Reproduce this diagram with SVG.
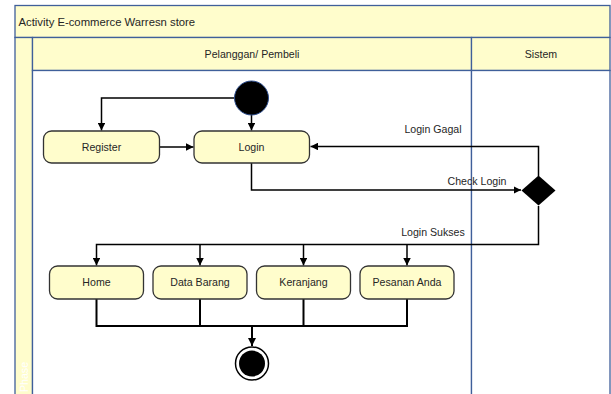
<svg xmlns="http://www.w3.org/2000/svg" width="611" height="394" viewBox="0 0 611 394">
  <style>
    .lane { fill: #fffdcc; stroke: #3f5f9a; stroke-width: 1.3; }
    .body { fill: #ffffff; stroke: #3f5f9a; stroke-width: 1.3; }
    .act { fill: #fffdcc; stroke: #333333; stroke-width: 1.3; }
    .txt { font-family: "Liberation Sans", Arial, sans-serif; font-size: 10.6px; fill: #262626; }
    .mid { text-anchor: middle; }
    .flow { fill: none; stroke: #000000; stroke-width: 1.5; }
    .flow2 { fill: none; stroke: #000000; stroke-width: 2; }
  </style>
  <defs>
    <marker id="arrow" viewBox="0 0 10 10" refX="10" refY="5" markerWidth="5" markerHeight="5" orient="auto" markerUnits="strokeWidth">
      <path d="M0,0 L10,5 L0,10 z" fill="#000000"/>
    </marker>
    <marker id="arrow2" viewBox="0 0 10 10" refX="10" refY="5" markerWidth="4.2" markerHeight="4.2" orient="auto" markerUnits="strokeWidth">
      <path d="M0,0 L10,5 L0,10 z" fill="#000000"/>
    </marker>
  </defs>

  <!-- swimlane frame -->
  <g id="pool">
    <rect class="lane" x="15" y="5.5" width="595" height="32"/>
    <text class="txt" x="18.5" y="25.5" style="font-size:11.3px">Activity E-commerce Warresn store</text>
    <rect class="lane" x="15" y="37.5" width="17.5" height="370"/>
    <text x="0" y="0" transform="translate(28,392) rotate(-90)" style="font-family:'Liberation Sans',Arial,sans-serif;font-size:10.6px;fill:#ffffff">Phase</text>
    <rect class="lane" x="32.5" y="37.5" width="439" height="33"/>
    <rect class="lane" x="471.5" y="37.5" width="138.5" height="33"/>
    <text class="txt mid" x="252" y="57.5">Pelanggan/ Pembeli</text>
    <text class="txt mid" x="541" y="57.5">Sistem</text>
    <rect class="body" x="32.5" y="70.5" width="439" height="340"/>
    <rect class="body" x="471.5" y="70.5" width="138.5" height="340"/>
  </g>

  <!-- connectors -->
  <g id="connectors">
    <path class="flow" d="M235,98 H101.5 V130.5" marker-end="url(#arrow)"/>
    <path class="flow" d="M251.5,114 V130.5" marker-end="url(#arrow)"/>
    <path class="flow" d="M160,147 H193.5" marker-end="url(#arrow)"/>
    <path class="flow" d="M251.5,163 V190 H521" marker-end="url(#arrow)"/>
    <path class="flow" d="M538.5,176 V146.5 H310.5" marker-end="url(#arrow)"/>
    <path class="flow" d="M538.5,206 V244.5 H96.5 V265.5" marker-end="url(#arrow)"/>
    <path class="flow" d="M200,244.5 V265.5" marker-end="url(#arrow)"/>
    <path class="flow" d="M303.5,244.5 V265.5" marker-end="url(#arrow)"/>
    <path class="flow" d="M407,244.5 V265.5" marker-end="url(#arrow)"/>
    <path class="flow2" d="M96.5,299 V326 H407 V299 M200,299 V326 M303.5,299 V326"/>
    <path class="flow2" d="M252,326 V346" marker-end="url(#arrow2)"/>
    <text class="txt mid" x="433" y="133">Login Gagal</text>
    <text class="txt mid" x="477" y="185">Check Login</text>
    <text class="txt mid" x="433" y="236">Login Sukses</text>
  </g>

  <!-- nodes -->
  <g id="start">
    <circle cx="251.5" cy="98" r="17" fill="#000000" stroke="#2f4f8f" stroke-width="1"/>
  </g>
  <g id="register">
    <rect class="act" x="43.5" y="131" width="116" height="32" rx="8"/>
    <text class="txt mid" x="101.5" y="150.8">Register</text>
  </g>
  <g id="login">
    <rect class="act" x="194" y="131" width="115.5" height="32" rx="8"/>
    <text class="txt mid" x="251.5" y="150.8">Login</text>
  </g>
  <g id="check-login">
    <path d="M538.5,175.5 L555.5,190.5 L538.5,205.5 L521.5,190.5 z" fill="#000000"/>
  </g>
  <g id="home">
    <rect class="act" x="49.5" y="266" width="94" height="33" rx="8"/>
    <text class="txt mid" x="96.5" y="286">Home</text>
  </g>
  <g id="data-barang">
    <rect class="act" x="153" y="266" width="94" height="33" rx="8"/>
    <text class="txt mid" x="200" y="286">Data Barang</text>
  </g>
  <g id="keranjang">
    <rect class="act" x="256.5" y="266" width="94" height="33" rx="8"/>
    <text class="txt mid" x="303.5" y="286">Keranjang</text>
  </g>
  <g id="pesanan-anda">
    <rect class="act" x="360" y="266" width="94" height="33" rx="8"/>
    <text class="txt mid" x="407" y="286">Pesanan Anda</text>
  </g>
  <g id="end">
    <circle cx="252" cy="363.5" r="16.5" fill="#ffffff" stroke="#000000" stroke-width="1.5"/>
    <circle cx="252" cy="363.5" r="13" fill="#000000"/>
  </g>
</svg>
